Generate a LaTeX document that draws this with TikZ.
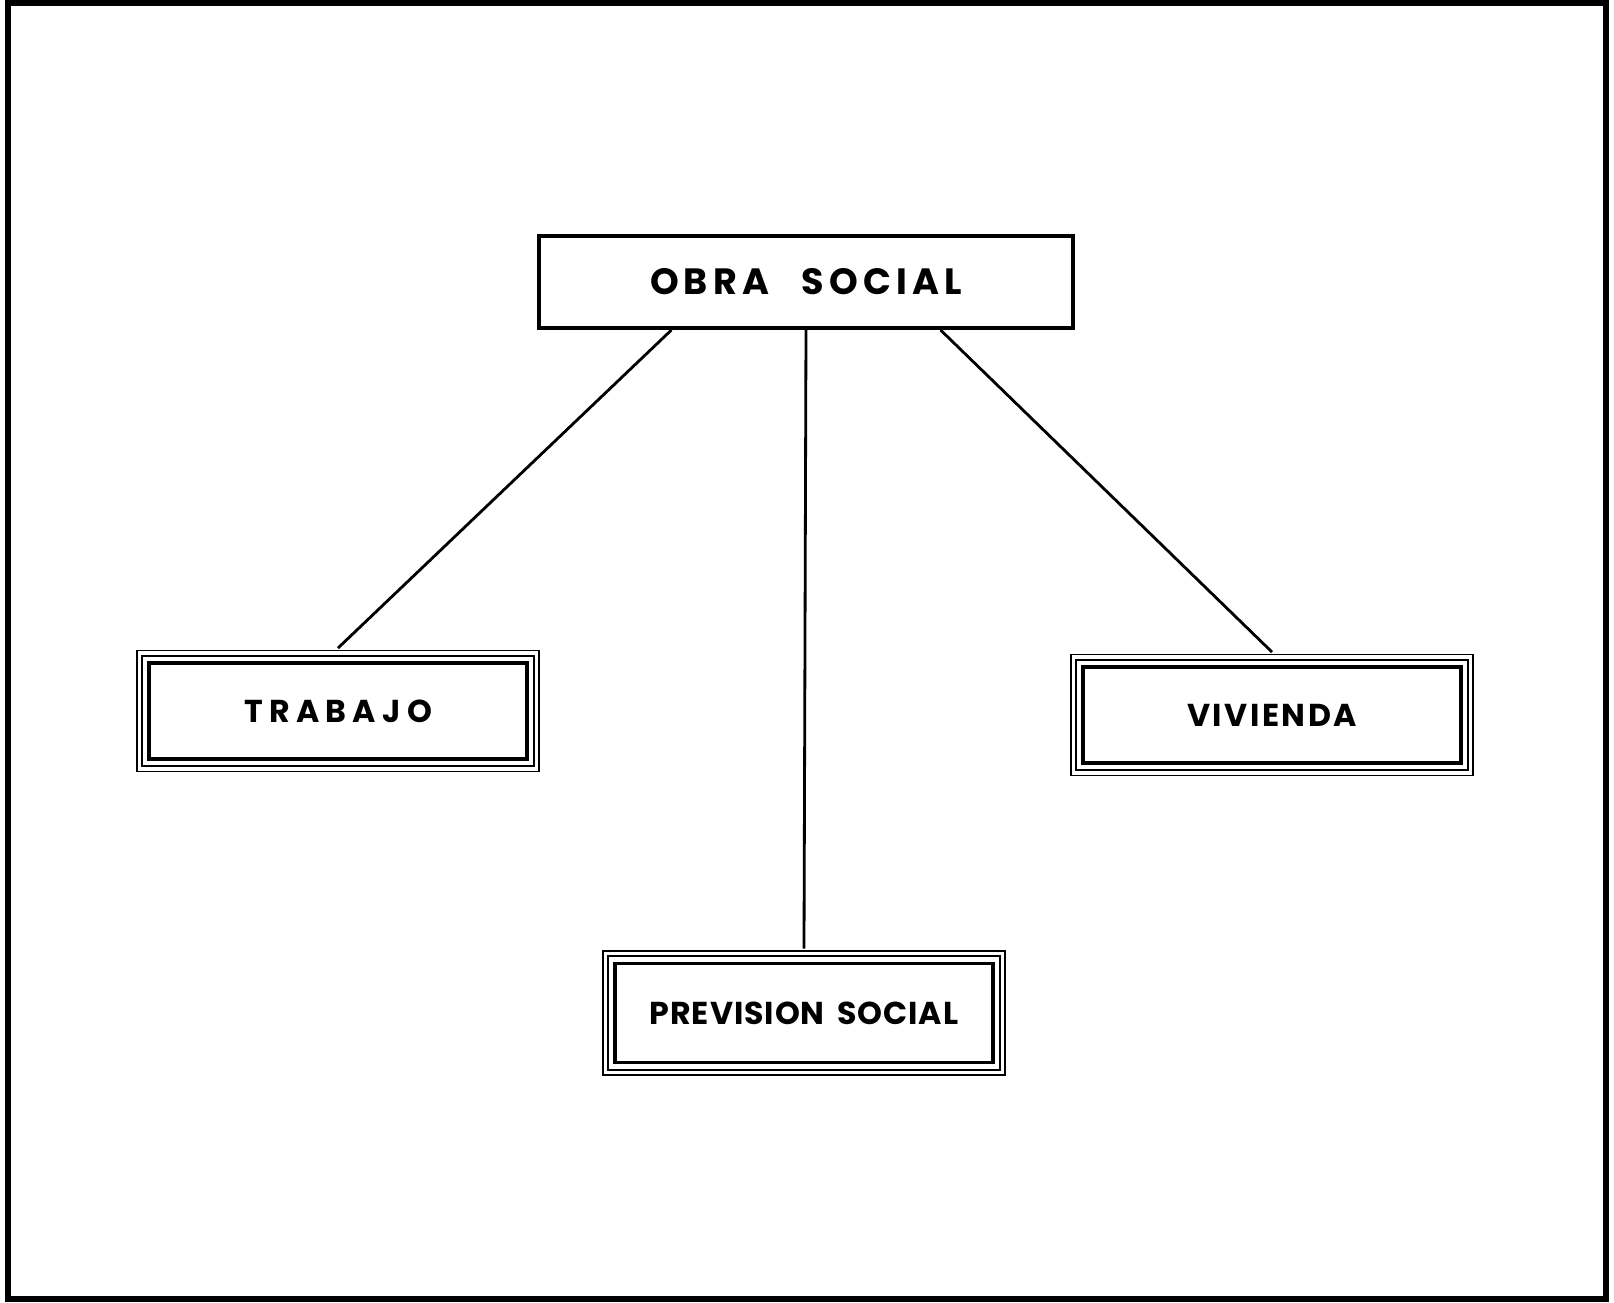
\documentclass[tikz,border=0pt]{standalone}
\usepackage{fontspec}
\setmainfont{Poppins}
\usetikzlibrary{calc}
\tikzset{
  caja/.style={draw, line width=1.1pt, minimum width=3.77cm, minimum height=0.96cm, inner sep=0pt,
    font=\bfseries\fontsize{9}{10}\selectfont\addfontfeature{LetterSpace=#1}},
  caja/.default=11,
  marco/.style={double, line width=0.45pt, double distance=1.1pt},
  linea/.style={line width=0.8pt},
}
\begin{document}
\begin{tikzpicture}[x=0.01cm, y=-0.01cm]
    \useasboundingbox (0,0) rectangle (1614,1302);
    \draw[line width=1.5pt] (8,3) rectangle (1606,1299);
    \node[draw, line width=1.1pt, minimum width=5.34cm, minimum height=0.92cm, inner sep=0pt,
      font=\bfseries\fontsize{10.4}{12}\selectfont\addfontfeature{LetterSpace=14}] (obra) at (806,282) {OBRA\hspace{0.9em}SOCIAL};
    \node[caja=20] (trabajo) at (338,711) {TRABAJO};
    \node[caja=8] (vivienda) at (1272,715) {VIVIENDA};
    \node[caja=3, minimum height=0.99cm] (prevision) at (804,1013) {PREVISION\hspace{0.4em}SOCIAL};
    \foreach \n in {trabajo,vivienda,prevision}{
        \draw[marco] ([shift={(-8,-8)}]\n.north west) rectangle ([shift={(8,8)}]\n.south east);
        \coordinate (\n-arriba) at ([shift={(0,-13)}]\n.north);
    }
    \draw[linea] ($(obra.south west)!0.25!(obra.south east)$) -- (trabajo-arriba);
    \draw[linea] (obra.south) -- (prevision-arriba);
    \draw[linea] ($(obra.south west)!0.75!(obra.south east)$) -- (vivienda-arriba);
\end{tikzpicture}
\end{document}
